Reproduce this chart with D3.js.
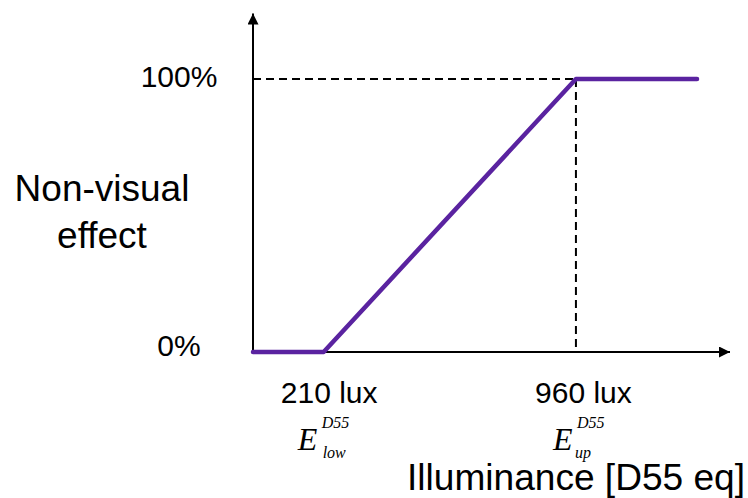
<!DOCTYPE html>
<html>
<head>
<meta charset="utf-8">
<script src="https://cdn.jsdelivr.net/npm/d3@7"></script>
<style>
  body { margin: 0; background: #fff; }
  text { font-family: "Liberation Sans", Arial, sans-serif; fill: #000; }
  .tex { font-family: "Liberation Serif", "Times New Roman", serif; font-style: italic; }
</style>
</head>
<body>
<svg id="chart" width="748" height="498"></svg>
<script>
// schematic response curve
var luxValues = [0, 210, 960, 1320];
var effectValues = [0, 0, 100, 100];

// axis labels
var xTicks = [210, 960];
var xTickSubs = ["low", "up"];
var yTicks = [0, 100];

var width = 748, height = 498;

var x = d3.scaleLinear()
	.domain([0, 1418])
	.range([253, 730]);

var y = d3.scaleLinear()
	.domain([0, 100])
	.range([352, 79]);

var svg = d3.select("#chart");

var defs = svg.append("defs");
defs.append("marker")
	.attr("id", "arrow")
	.attr("viewBox", "0 0 10 10")
	.attr("refX", 10).attr("refY", 5)
	.attr("markerWidth", 6.5).attr("markerHeight", 5.5)
	.attr("markerUnits", "strokeWidth")
	.attr("orient", "auto")
	.append("path")
		.attr("d", "M0,0 L10,5 L0,10 Z")
		.attr("fill", "#000");

// dashed guides
var yMax = 100, luxUp = 960;
svg.append("line")
	.attr("x1", x(0)).attr("x2", x(luxUp))
	.attr("y1", y(yMax)).attr("y2", y(yMax))
	.attr("stroke", "#000").attr("stroke-width", 2)
	.attr("stroke-dasharray", "8,5");
svg.append("line")
	.attr("x1", x(luxUp)).attr("x2", x(luxUp))
	.attr("y1", y(yMax)).attr("y2", y(0))
	.attr("stroke", "#000").attr("stroke-width", 2)
	.attr("stroke-dasharray", "8,5");

// axes lines with arrows
svg.append("line")
	.attr("x1", x(0)).attr("x2", x.range()[1])
	.attr("y1", y(0)).attr("y2", y(0))
	.attr("stroke", "#000").attr("stroke-width", 2)
	.attr("marker-end", "url(#arrow)");
svg.append("line")
	.attr("x1", x(0)).attr("x2", x(0))
	.attr("y1", y(0)).attr("y2", y(124))
	.attr("stroke", "#000").attr("stroke-width", 2)
	.attr("marker-end", "url(#arrow)");

// curve
var data = luxValues.map((d, i) => ({lux: d, eff: effectValues[i]}));
var line = d3.line()
	.x(d => x(d.lux))
	.y(d => y(d.eff));

svg.append("path")
	.datum(data)
	.attr("d", line)
	.attr("fill", "none")
	.attr("stroke", "#5a23a0")
	.attr("stroke-width", 4.5)
	.attr("stroke-linecap", "round")
	.attr("stroke-linejoin", "round");

// tick labels through d3 axes
var xAxis = g => g
	.attr("transform", `translate(0,${y(0)})`)
	.call(d3.axisBottom(x)
		.tickValues(xTicks)
		.tickSize(0)
		.tickPadding(30)
		.tickFormat(d => d + " lux"))
	.call(g => g.select(".domain").remove())
	.call(g => g.selectAll("text")
		.attr("font-family", null)
		.style("font-size", "30px")
		.attr("dx", (d, i) => i == 0 ? 5 : 7));

var yAxis = g => g
	.attr("transform", `translate(${x(0)},0)`)
	.call(d3.axisLeft(y)
		.tickValues(yTicks)
		.tickSize(0)
		.tickPadding(74)
		.tickFormat(d => d + "%"))
	.call(g => g.select(".domain").remove())
	.call(g => g.selectAll("text")
		.attr("font-family", null)
		.attr("text-anchor", "middle")
		.style("font-size", "30px")
		.attr("dy", d => d == 0 ? "0.13em" : "0.26em"));

svg.append("g").call(xAxis);
svg.append("g").call(yAxis);

// E^{D55}_{low/up} symbols
var sym = svg.append("g").selectAll("g")
	.data(xTicks)
	.join("g")
		.attr("transform", (d, i) => `translate(${x(d) - (i == 0 ? 26 : 23)},450)`);

sym.append("text")
	.attr("class", "tex")
	.style("font-size", "32px")
	.text("E");
sym.append("text")
	.attr("class", "tex")
	.attr("x", 24).attr("y", -22)
	.style("font-size", "16px")
	.text("D55");
sym.append("text")
	.attr("class", "tex")
	.attr("x", (d, i) => i == 0 ? 25 : 22).attr("y", 8)
	.style("font-size", "16px")
	.text((d, i) => xTickSubs[i]);

// axis titles
svg.append("text")
	.attr("x", 407).attr("y", 490)
	.attr("textLength", 338)
	.attr("lengthAdjust", "spacingAndGlyphs")
	.style("font-size", "36px")
	.text("Illuminance [D55 eq]");

var yTitle = svg.append("text")
	.attr("text-anchor", "middle")
	.style("font-size", "37px");
yTitle.append("tspan").attr("x", 102).attr("y", 201).text("Non-visual");
yTitle.append("tspan").attr("x", 102).attr("y", 248).text("effect");
</script>
</body>
</html>
